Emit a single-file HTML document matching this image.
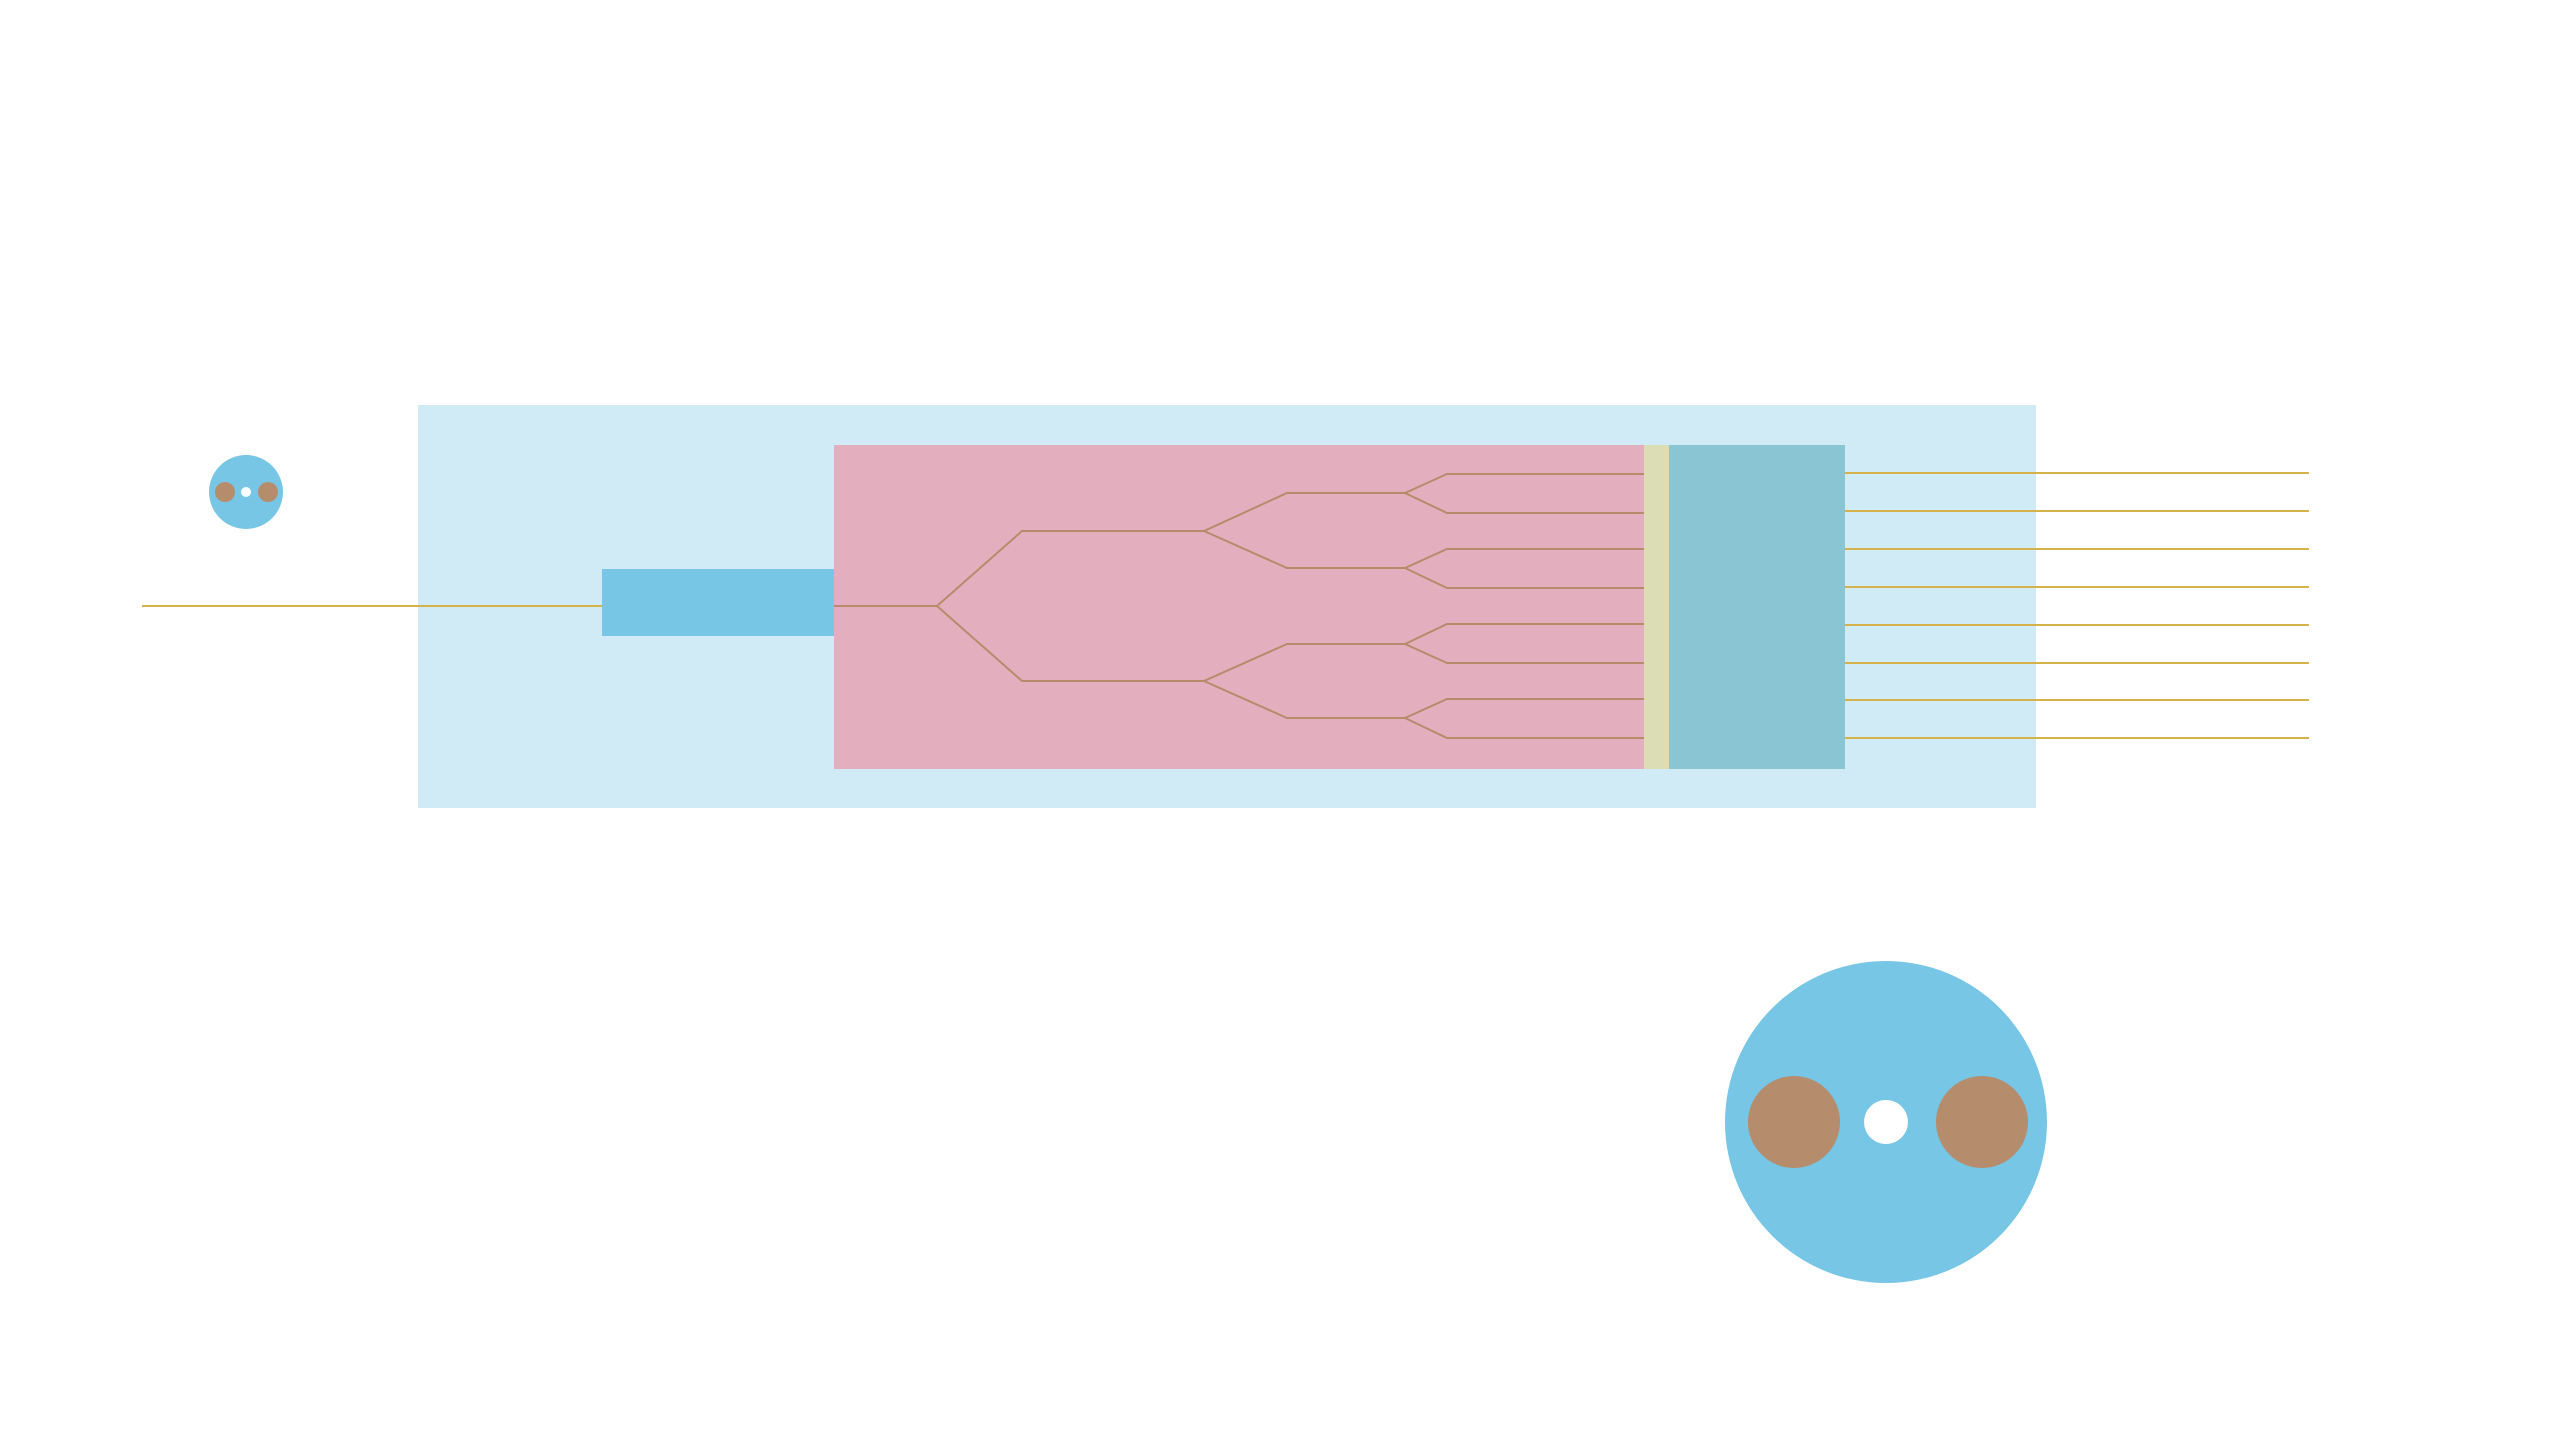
<!DOCTYPE html>
<html><head><style>html,body{margin:0;padding:0;background:#fff}svg{display:block}</style></head>
<body>
<svg width="2560" height="1440" viewBox="0 0 2560 1440" xmlns="http://www.w3.org/2000/svg">
<rect x="418" y="405" width="1618" height="403" fill="#d0ebf5"/>
<rect x="834" y="445" width="810" height="324" fill="#e3afbe"/>
<rect x="1644" y="445" width="25" height="324" fill="#dcdcb5"/>
<rect x="1669" y="445" width="176" height="324" fill="#8ac5d3"/>
<rect x="602" y="569" width="232" height="67" fill="#78c6e6"/>
<line x1="142" y1="606" x2="602" y2="606" stroke="#d4b44a" stroke-width="2"/>
<g fill="none" stroke="#b88a6a" stroke-width="2">
<path d="M834 606H937L1022 531H1204L1287 493H1405L1447 474H1644M1405 493L1447 513H1644"/>
<path d="M1204 531L1287 568H1405L1447 549H1644M1405 568L1447 588H1644"/>
<path d="M937 606L1022 681H1204L1287 644H1405L1447 624H1644M1405 644L1447 663H1644"/>
<path d="M1204 681L1287 718H1405L1447 699H1644M1405 718L1447 738H1644"/>
</g>
<g stroke="#d4b44a" stroke-width="2">
<line x1="1845" y1="473" x2="2309" y2="473"/>
<line x1="1845" y1="511" x2="2309" y2="511"/>
<line x1="1845" y1="549" x2="2309" y2="549"/>
<line x1="1845" y1="587" x2="2309" y2="587"/>
<line x1="1845" y1="625" x2="2309" y2="625"/>
<line x1="1845" y1="663" x2="2309" y2="663"/>
<line x1="1845" y1="700" x2="2309" y2="700"/>
<line x1="1845" y1="738" x2="2309" y2="738"/>
</g>
<circle cx="246" cy="492" r="37" fill="#78c6e6"/>
<circle cx="225" cy="492" r="10" fill="#b58c6c"/>
<circle cx="268" cy="492" r="10" fill="#b58c6c"/>
<circle cx="246" cy="492" r="5" fill="#fff"/>
<circle cx="1886" cy="1122" r="161" fill="#78c6e6"/>
<circle cx="1794" cy="1122" r="46" fill="#b58c6c"/>
<circle cx="1982" cy="1122" r="46" fill="#b58c6c"/>
<circle cx="1886" cy="1122" r="22" fill="#fff"/>
</svg>
</body></html>
